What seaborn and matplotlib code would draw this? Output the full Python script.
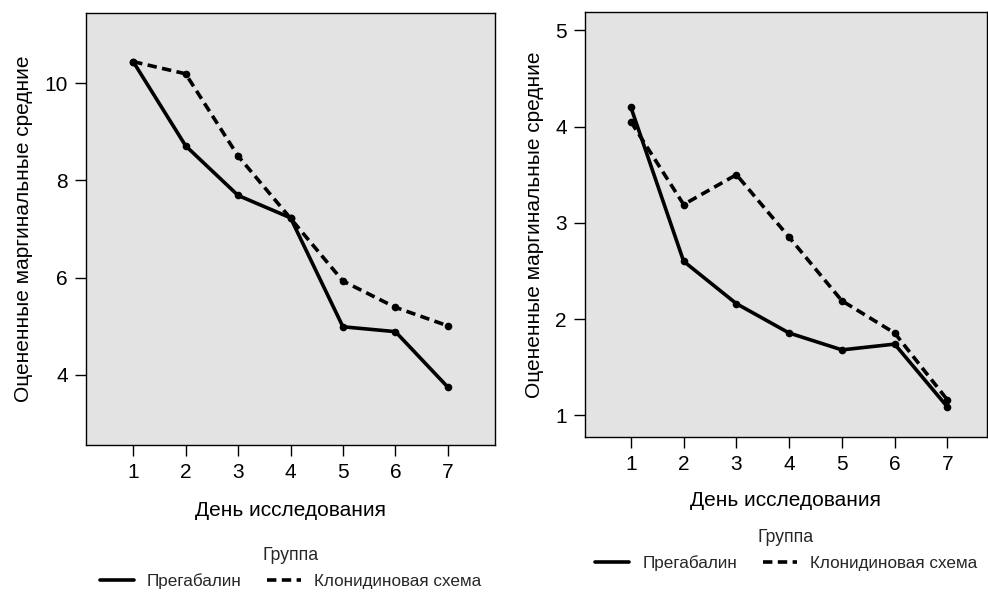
import numpy as np
import pandas as pd
import matplotlib
matplotlib.use("Agg")
import matplotlib.pyplot as plt
import seaborn as sns
from matplotlib.lines import Line2D

days = [1, 2, 3, 4, 5, 6, 7]
groups = ["Прегабалин", "Клонидиновая схема"]
left_preg = [10.44, 8.71, 7.69, 7.23, 4.99, 4.89, 3.75]
left_clon = [10.44, 10.19, 8.50, 7.22, 5.93, 5.39, 5.01]
right_preg = [4.20, 2.60, 2.16, 1.855, 1.68, 1.74, 1.087]
right_clon = [4.05, 3.19, 3.50, 2.85, 2.19, 1.855, 1.16]
left_yticks = [4, 6, 8, 10]
right_yticks = [1, 2, 3, 4, 5]
xlabel = "День исследования"
ylabel = "Оцененные маргинальные средние"
legend_title = "Группа"

sns.set_theme(style="white")
plt.rcParams['font.family'] = ['Liberation Sans', 'DejaVu Sans']

def make_df(preg, clon):
    return pd.DataFrame({
        "day": days * 2,
        "value": list(preg) + list(clon),
        "group": [groups[0]] * 7 + [groups[1]] * 7,
    })

fig = plt.figure(figsize=(9.88, 5.94), dpi=100)
ax1 = fig.add_axes([86/988, 1-445/594, (495-86)/988, (445-13)/594])
ax2 = fig.add_axes([585/988, 1-437/594, (987-585)/988, (437-12)/594])

bg = "#e3e3e3"
dash = (2.6, 1.5)
configs = [
    (ax1, make_df(left_preg, left_clon), (2.56, 11.44), left_yticks, (0.1, 7.9), -0.201, 14),
    (ax2, make_df(right_preg, right_clon), (0.775, 5.19), right_yticks, (0.13, 7.75), -0.181, 12),
]
for ax, df, ylim, yticks, xlim, legy, lpad in configs:
    ax.set_facecolor(bg)
    sns.lineplot(data=df, x="day", y="value", style="group", style_order=groups,
                 color="black", markers=["o", "o"], dashes=[(1, 0), dash],
                 linewidth=2.6, markersize=5.5, markeredgewidth=0, ax=ax, legend=False)
    ax.set_xlim(*xlim)
    ax.set_ylim(*ylim)
    ax.set_xticks(days)
    ax.set_yticks(yticks)
    ax.tick_params(axis="both", which="both", direction="out", length=8, width=1,
                   color="black", labelsize=15, labelcolor="black", pad=5,
                   bottom=True, left=True)
    for s in ax.spines.values():
        s.set_visible(True)
        s.set_color("black")
        s.set_linewidth(1.0)
    ax.set_xlabel(xlabel, fontsize=15, labelpad=lpad, color="black")
    ax.set_ylabel(ylabel, fontsize=15, labelpad=8, color="black")
    handles = [Line2D([], [], color="black", lw=2.6, linestyle="-"),
               Line2D([], [], color="black", lw=2.6, linestyle=(0, dash))]
    leg = ax.legend(handles, groups, title=legend_title, loc="upper center",
                    bbox_to_anchor=(0.5, legy), ncol=2, frameon=False,
                    fontsize=12.3, title_fontsize=12.7, handlelength=2.0,
                    columnspacing=1.5, handletextpad=0.75, labelspacing=0.5)

fig.savefig("out.png", dpi=100, facecolor="white")
